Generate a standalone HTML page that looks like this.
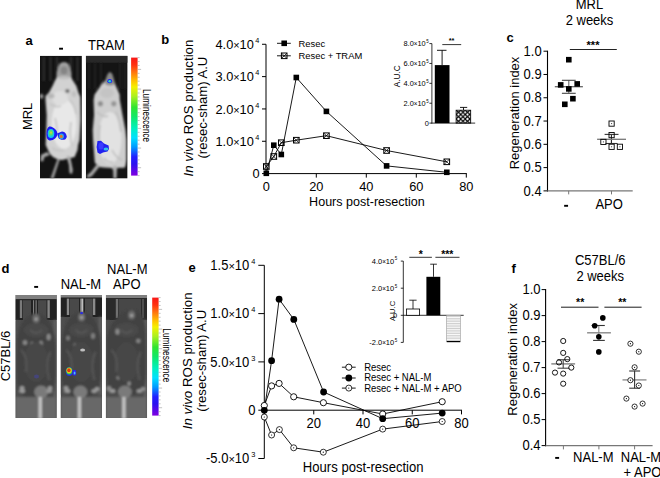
<!DOCTYPE html>
<html><head><meta charset="utf-8"><title>Figure</title>
<style>html,body{margin:0;padding:0;background:#fff;overflow:hidden;width:660px;height:478px;}svg{display:block;}text{font-family:"Liberation Sans", sans-serif;fill:#000;}</style>
</head><body>
<svg width="660" height="478" viewBox="0 0 660 478">
<defs>
<linearGradient id="cbar" x1="0" y1="0" x2="0" y2="1">
<stop offset="0" stop-color="#f81818"/><stop offset="0.06" stop-color="#ff3010"/><stop offset="0.12" stop-color="#ff7010"/>
<stop offset="0.2" stop-color="#ffc400"/><stop offset="0.25" stop-color="#f4f000"/><stop offset="0.33" stop-color="#a8f020"/>
<stop offset="0.42" stop-color="#30e430"/><stop offset="0.5" stop-color="#10e868"/><stop offset="0.6" stop-color="#00f0c0"/>
<stop offset="0.68" stop-color="#00e0ff"/><stop offset="0.76" stop-color="#0098ff"/><stop offset="0.84" stop-color="#2020ff"/>
<stop offset="0.9" stop-color="#2a10f0"/><stop offset="1" stop-color="#8000e0"/>
</linearGradient>
<pattern id="xhatch" width="4.5" height="4.5" patternUnits="userSpaceOnUse" x="456.2" y="110.0"><rect width="4.5" height="4.5" fill="#fff"/><path d="M-1 -1L5.5 5.5M5.5 -1L-1 5.5" stroke="#000" stroke-width="1.15"/></pattern>
<pattern id="hstripe" width="3" height="1.7" patternUnits="userSpaceOnUse"><rect width="3" height="1.7" fill="#fafafa"/><rect width="3" height="0.7" fill="#c4c4c4"/></pattern>
<filter id="blur1" x="-20%" y="-20%" width="140%" height="140%"><feGaussianBlur stdDeviation="1.1"/></filter>
<filter id="blur08" x="-20%" y="-20%" width="140%" height="140%"><feGaussianBlur stdDeviation="0.7"/></filter>
<filter id="blur05" x="-50%" y="-50%" width="200%" height="200%"><feGaussianBlur stdDeviation="0.6"/></filter>
<clipPath id="ca1"><rect x="40" y="55.7" width="41.9" height="122.9"/></clipPath>
<clipPath id="ca2"><rect x="85.8" y="55.7" width="41.8" height="122.9"/></clipPath>
<clipPath id="cd0"><rect x="15.4" y="295" width="41.4" height="123"/></clipPath>
<clipPath id="cd1"><rect x="60.6" y="295" width="41.4" height="123"/></clipPath>
<clipPath id="cd2"><rect x="105.8" y="295" width="41.3" height="123"/></clipPath>
</defs>
<text transform="translate(25.4,44.5) scale(1,1.0)" font-size="13" text-anchor="start" font-weight="bold" font-style="normal" >a</text>
<rect x="59.099999999999994" y="47.75" width="3.9" height="1.9" fill="#000"/>
<text transform="translate(106.4,49.7) scale(1,1.06)" font-size="13" text-anchor="middle" font-weight="normal" font-style="normal" >TRAM</text>
<text transform="translate(32,116.4) rotate(-90) scale(1.06,1)" font-size="12.26" text-anchor="middle">MRL</text>
<g clip-path="url(#ca1)">
<rect x="40" y="55.7" width="41.9" height="122.9" fill="#131313"/>
<g filter="url(#blur1)">
<rect x="42.8" y="57" width="2" height="24" fill="#2e2e2e"/>
<rect x="49.5" y="57" width="2" height="24" fill="#2e2e2e"/>
<rect x="56" y="57" width="2" height="24" fill="#2e2e2e"/>
<rect x="70" y="57" width="2" height="24" fill="#2e2e2e"/>
<rect x="76.5" y="57" width="2" height="24" fill="#2e2e2e"/>
<path d="M64,62.6 C67.5,62.6 68.9,64.6 69.2,66.5 L70.5,72 L71.2,77.8 L72.9,80.5 L76.4,86 L78.4,92.5 L80.3,97 L80.6,120 L79.5,140 L78,145 L77.5,150 L74.6,157 L68,158.5 L62,160 L58,159.5 L53,157 L50,154 L47.5,149 L45.7,145 L46.3,130 L46.7,115 L45.5,100 L45.5,96 L49,92.5 L52.5,86 L55,80.5 L56.8,77.8 L57.5,72 L58.8,66.5 C59.1,64.6 60.5,62.6 64,62.6Z" fill="#d2d2d2"/>
<path d="M64,62.6 C67.5,62.6 68.9,64.6 69.2,66.5 L70.5,72 L71,77 C67,79 61,79 57,77 L57.5,72 L58.8,66.5 C59.1,64.6 60.5,62.6 64,62.6Z" fill="#a0a0a0"/>
<ellipse cx="64" cy="70.5" rx="3.5" ry="4" fill="#858585"/>
<ellipse cx="64" cy="77.5" rx="6" ry="1.8" fill="#bdbdbd"/>
<ellipse cx="64" cy="124" rx="12.5" ry="25" fill="#e8e8e8"/>
<ellipse cx="60" cy="98" rx="8" ry="7" fill="#dedede"/>
<ellipse cx="67.4" cy="91" rx="2.2" ry="2" fill="#6a6a6a"/>
<ellipse cx="51" cy="96" rx="3.5" ry="2.5" fill="#b5b5b5"/>
<ellipse cx="74" cy="94" rx="2.5" ry="3" fill="#c0c0c0"/>
<path d="M50,104 Q56,108 61,106 M70,100 Q75,106 76,114 M55,118 Q58,128 56,136 M71,122 Q69,134 72,146 M52,148 Q58,152 64,150" fill="none" stroke="#c4c4c4" stroke-width="1.6"/>
<ellipse cx="41.5" cy="96.3" rx="1.8" ry="2.5" fill="#999"/>
<path d="M47,152 L41,155 L40.5,161 L43,161.5 L44.5,157 L50,155Z" fill="#a8a8a8"/>
<path d="M57.5,159 L59.5,160 L53.5,178.6 L50.5,178.6Z" fill="#a0a0a0"/>
<path d="M66.5,156 L70,156 L72.8,170 L72,174 L69.5,173 L69,165Z" fill="#b0b0b0"/>
</g>
<g filter="url(#blur05)">
<path d="M50,126.6 C54,127 57.6,131 57.4,134 C57.2,137.5 54,140.4 50,140.4 C47,140.4 46.3,137 46.5,133 C46.7,129 48,126.6 50,126.6Z" fill="#1c1cf4"/>
<path d="M57,133.5 L62,131.6 C65,131.6 66.6,134.5 66.8,137 L65.5,139.2 C63,140.2 60,140 58.5,138 Z" fill="#2020f0"/>
<ellipse cx="51" cy="133.5" rx="3.3" ry="4.6" fill="#18c8e8"/>
<ellipse cx="51" cy="132.8" rx="2.1" ry="2.9" fill="#58e070"/>
<ellipse cx="51" cy="132.6" rx="1" ry="1.2" fill="#c8d040"/>
<ellipse cx="61.4" cy="136.2" rx="2.5" ry="2.8" fill="#28a8e8"/>
<ellipse cx="61.2" cy="136.4" rx="1.5" ry="1.7" fill="#e07828"/>
</g>
</g>
<g clip-path="url(#ca2)">
<rect x="85.8" y="55.7" width="41.8" height="122.9" fill="#141414"/>
<rect x="85.8" y="55.7" width="41.8" height="7" fill="#282828"/>
<g filter="url(#blur1)">
<rect x="88.2" y="63" width="1.6" height="26" fill="#262626"/>
<rect x="94.2" y="63" width="1.6" height="26" fill="#262626"/>
<rect x="100.2" y="63" width="1.6" height="26" fill="#262626"/>
<rect x="119.2" y="63" width="1.6" height="26" fill="#262626"/>
<rect x="124.2" y="63" width="1.6" height="26" fill="#262626"/>
<path d="M110,72.3 C112,73 113,76 113.8,80 L115.8,85.8 L119.6,94.4 L119.8,100 L122.5,115 L125.4,130 L126.4,140 L126.4,160 L125.5,166 L124.4,167.7 L118,167.7 L116.5,169 L113,170 L112,168 L104,167.5 L99.4,167 L98.4,165.8 L95,163 L94.6,160 L93.1,140 L92.7,130 L94.1,115 L93.6,100 L94.6,94.4 L100.8,85.8 L105.7,80 C107,76 108,73 110,72.3Z" fill="#cecece"/>
<path d="M110,72.3 C112,73 113,76 113.8,80 L114.8,84 C112,86 108,86 105,84 L105.7,80 C107,76 108,73 110,72.3Z" fill="#8a8a8a"/>
<ellipse cx="110" cy="138" rx="11.5" ry="26" fill="#e2e2e2"/>
<ellipse cx="100.4" cy="103.7" rx="2.6" ry="2.8" fill="#8e8e8e"/>
<ellipse cx="113.8" cy="103.7" rx="2.6" ry="2.8" fill="#959595"/>
<ellipse cx="107" cy="93" rx="7" ry="5" fill="#c4c4c4"/>
<path d="M97,112 Q103,118 108,116 M116,112 Q120,122 121,132 M100,125 Q98,140 101,150 M112,150 Q116,158 122,160 M104,158 Q108,163 113,162" fill="none" stroke="#bdbdbd" stroke-width="1.5"/>
<path d="M97,164 L100,166 L92,176 L87.5,178 L87,175.5 L91,172Z" fill="#a8a8a8"/>
<path d="M113,166 L117,166 L116.5,178.6 L113.5,178.6Z" fill="#b0b0b0"/>
</g>
<g filter="url(#blur05)">
<ellipse cx="109.7" cy="81.2" rx="2.4" ry="2.1" fill="#2222f8"/>
<ellipse cx="109.7" cy="81.2" rx="1.488" ry="1.302" fill="#10c0e0"/>
<ellipse cx="109.7" cy="81.2" rx="0.864" ry="0.756" fill="#50e080"/>
</g>
<g filter="url(#blur05)">
<path d="M97.5,141 L101,140.8 L104,143.5 L108.6,145.5 L109,149 L107.5,151.5 L103,152.5 L100,154 L97.5,152.5 L96.6,147 Z" fill="#2424f0"/>
<ellipse cx="101" cy="146" rx="2.6" ry="3.5" fill="#3a3aff"/>
<ellipse cx="106" cy="149" rx="2.4" ry="1.6" fill="#30c0e8"/>
</g>
</g>
<rect x="131.1" y="57.6" width="6.5" height="118" fill="url(#cbar)"/>
<line x1="137.6" y1="57.6" x2="139.6" y2="57.6" stroke="#999" stroke-width="0.6" />
<line x1="137.6" y1="61.53333333333333" x2="139.6" y2="61.53333333333333" stroke="#999" stroke-width="0.6" />
<line x1="137.6" y1="65.46666666666667" x2="139.6" y2="65.46666666666667" stroke="#999" stroke-width="0.6" />
<line x1="137.6" y1="69.4" x2="141.1" y2="69.4" stroke="#999" stroke-width="0.6" />
<line x1="137.6" y1="73.33333333333333" x2="139.6" y2="73.33333333333333" stroke="#999" stroke-width="0.6" />
<line x1="137.6" y1="77.26666666666667" x2="139.6" y2="77.26666666666667" stroke="#999" stroke-width="0.6" />
<line x1="137.6" y1="81.2" x2="139.6" y2="81.2" stroke="#999" stroke-width="0.6" />
<line x1="137.6" y1="85.13333333333334" x2="139.6" y2="85.13333333333334" stroke="#999" stroke-width="0.6" />
<line x1="137.6" y1="89.06666666666666" x2="141.1" y2="89.06666666666666" stroke="#999" stroke-width="0.6" />
<line x1="137.6" y1="93.0" x2="139.6" y2="93.0" stroke="#999" stroke-width="0.6" />
<line x1="137.6" y1="96.93333333333334" x2="139.6" y2="96.93333333333334" stroke="#999" stroke-width="0.6" />
<line x1="137.6" y1="100.86666666666667" x2="139.6" y2="100.86666666666667" stroke="#999" stroke-width="0.6" />
<line x1="137.6" y1="104.80000000000001" x2="139.6" y2="104.80000000000001" stroke="#999" stroke-width="0.6" />
<line x1="137.6" y1="108.73333333333333" x2="141.1" y2="108.73333333333333" stroke="#999" stroke-width="0.6" />
<line x1="137.6" y1="112.66666666666667" x2="139.6" y2="112.66666666666667" stroke="#999" stroke-width="0.6" />
<line x1="137.6" y1="116.6" x2="139.6" y2="116.6" stroke="#999" stroke-width="0.6" />
<line x1="137.6" y1="120.53333333333333" x2="139.6" y2="120.53333333333333" stroke="#999" stroke-width="0.6" />
<line x1="137.6" y1="124.46666666666667" x2="139.6" y2="124.46666666666667" stroke="#999" stroke-width="0.6" />
<line x1="137.6" y1="128.4" x2="141.1" y2="128.4" stroke="#999" stroke-width="0.6" />
<line x1="137.6" y1="132.33333333333334" x2="139.6" y2="132.33333333333334" stroke="#999" stroke-width="0.6" />
<line x1="137.6" y1="136.26666666666668" x2="139.6" y2="136.26666666666668" stroke="#999" stroke-width="0.6" />
<line x1="137.6" y1="140.2" x2="139.6" y2="140.2" stroke="#999" stroke-width="0.6" />
<line x1="137.6" y1="144.13333333333333" x2="139.6" y2="144.13333333333333" stroke="#999" stroke-width="0.6" />
<line x1="137.6" y1="148.06666666666666" x2="141.1" y2="148.06666666666666" stroke="#999" stroke-width="0.6" />
<line x1="137.6" y1="152.0" x2="139.6" y2="152.0" stroke="#999" stroke-width="0.6" />
<line x1="137.6" y1="155.93333333333334" x2="139.6" y2="155.93333333333334" stroke="#999" stroke-width="0.6" />
<line x1="137.6" y1="159.86666666666667" x2="139.6" y2="159.86666666666667" stroke="#999" stroke-width="0.6" />
<line x1="137.6" y1="163.8" x2="139.6" y2="163.8" stroke="#999" stroke-width="0.6" />
<line x1="137.6" y1="167.73333333333335" x2="141.1" y2="167.73333333333335" stroke="#999" stroke-width="0.6" />
<line x1="137.6" y1="171.66666666666666" x2="139.6" y2="171.66666666666666" stroke="#999" stroke-width="0.6" />
<line x1="137.6" y1="175.6" x2="139.6" y2="175.6" stroke="#999" stroke-width="0.6" />
<text transform="translate(143.4,115.6) rotate(90)" font-size="10.4" text-anchor="middle" textLength="53.19999999999999" lengthAdjust="spacingAndGlyphs">Luminescence</text>
<text transform="translate(161.2,44.2) scale(1,1.0)" font-size="13" text-anchor="start" font-weight="bold" font-style="normal" >b</text>
<line x1="266.0" y1="44.28" x2="266.0" y2="174.1" stroke="#000" stroke-width="1" />
<line x1="265.5" y1="173.6" x2="466.8" y2="173.6" stroke="#000" stroke-width="1" />
<line x1="262.0" y1="44.28" x2="266.0" y2="44.28" stroke="#000" stroke-width="1" />
<text transform="translate(259.3,48.88) scale(1,1.06)" font-size="12.8" text-anchor="end">4.0<tspan font-size="10.88">×</tspan>10<tspan font-size="7.30" dx="1.4" dy="-5.52">4</tspan></text>
<line x1="262.0" y1="76.61" x2="266.0" y2="76.61" stroke="#000" stroke-width="1" />
<text transform="translate(259.3,81.21) scale(1,1.06)" font-size="12.8" text-anchor="end">3.0<tspan font-size="10.88">×</tspan>10<tspan font-size="7.30" dx="1.4" dy="-5.52">4</tspan></text>
<line x1="262.0" y1="108.94" x2="266.0" y2="108.94" stroke="#000" stroke-width="1" />
<text transform="translate(259.3,113.53999999999999) scale(1,1.06)" font-size="12.8" text-anchor="end">2.0<tspan font-size="10.88">×</tspan>10<tspan font-size="7.30" dx="1.4" dy="-5.52">4</tspan></text>
<line x1="262.0" y1="141.26999999999998" x2="266.0" y2="141.26999999999998" stroke="#000" stroke-width="1" />
<text transform="translate(259.3,145.86999999999998) scale(1,1.06)" font-size="12.8" text-anchor="end">1.0<tspan font-size="10.88">×</tspan>10<tspan font-size="7.30" dx="1.4" dy="-5.52">4</tspan></text>
<line x1="262.0" y1="173.6" x2="266.0" y2="173.6" stroke="#000" stroke-width="1" />
<text transform="translate(259.5,178.2) scale(1,1.06)" font-size="12.8" text-anchor="end" font-weight="normal" font-style="normal" >0</text>
<line x1="316.3" y1="173.6" x2="316.3" y2="177.6" stroke="#000" stroke-width="1" />
<line x1="366.3" y1="173.6" x2="366.3" y2="177.6" stroke="#000" stroke-width="1" />
<line x1="416.3" y1="173.6" x2="416.3" y2="177.6" stroke="#000" stroke-width="1" />
<line x1="466.3" y1="173.6" x2="466.3" y2="177.6" stroke="#000" stroke-width="1" />
<text transform="translate(266.3,191) scale(1,1.06)" font-size="12.8" text-anchor="middle" font-weight="normal" font-style="normal" >0</text>
<text transform="translate(316.3,191) scale(1,1.06)" font-size="12.8" text-anchor="middle" font-weight="normal" font-style="normal" >20</text>
<text transform="translate(366.3,191) scale(1,1.06)" font-size="12.8" text-anchor="middle" font-weight="normal" font-style="normal" >40</text>
<text transform="translate(416.3,191) scale(1,1.06)" font-size="12.8" text-anchor="middle" font-weight="normal" font-style="normal" >60</text>
<text transform="translate(466.3,191) scale(1,1.06)" font-size="12.8" text-anchor="middle" font-weight="normal" font-style="normal" >80</text>
<text transform="translate(309.1,205.9) scale(1,1.06)" font-size="12.55" text-anchor="start" font-weight="normal" font-style="normal" >Hours post-resection</text>
<text transform="translate(193,108.0) rotate(-90) scale(1.06,1)" font-size="12.56" text-anchor="middle"><tspan font-style="italic">In vivo</tspan> ROS production</text>
<text transform="translate(206.6,107.6) rotate(-90) scale(1.06,1)" font-size="12.36" text-anchor="middle">(resec-sham) A.U</text>
<polyline fill="none" stroke="#000" stroke-width="0.9" points="266.3,166.5 273.8,156.5 281.3,142.7 296.3,140.2 326.4,135.7 386.6,150.5 446.8,161.8"/>
<polyline fill="none" stroke="#000" stroke-width="0.9" points="266.3,173.3 273.8,145.2 281.3,154.5 296.3,77.5 326.4,111.4 386.6,165.9 446.8,172.3"/>
<g stroke="#000" stroke-width="1" fill="none"><rect x="263.5" y="163.7" width="5.6" height="5.6"/><path d="M263.5 163.7L269.1 169.3M269.1 163.7L263.5 169.3" stroke-width="0.75"/></g>
<g stroke="#000" stroke-width="1" fill="none"><rect x="271.0" y="153.7" width="5.6" height="5.6"/><path d="M271.0 153.7L276.6 159.3M276.6 153.7L271.0 159.3" stroke-width="0.75"/></g>
<g stroke="#000" stroke-width="1" fill="none"><rect x="278.5" y="139.89999999999998" width="5.6" height="5.6"/><path d="M278.5 139.89999999999998L284.1 145.5M284.1 139.89999999999998L278.5 145.5" stroke-width="0.75"/></g>
<g stroke="#000" stroke-width="1" fill="none"><rect x="293.5" y="137.39999999999998" width="5.6" height="5.6"/><path d="M293.5 137.39999999999998L299.1 143.0M299.1 137.39999999999998L293.5 143.0" stroke-width="0.75"/></g>
<g stroke="#000" stroke-width="1" fill="none"><rect x="323.59999999999997" y="132.89999999999998" width="5.6" height="5.6"/><path d="M323.59999999999997 132.89999999999998L329.2 138.5M329.2 132.89999999999998L323.59999999999997 138.5" stroke-width="0.75"/></g>
<g stroke="#000" stroke-width="1" fill="none"><rect x="383.8" y="147.7" width="5.6" height="5.6"/><path d="M383.8 147.7L389.40000000000003 153.3M389.40000000000003 147.7L383.8 153.3" stroke-width="0.75"/></g>
<g stroke="#000" stroke-width="1" fill="none"><rect x="444.0" y="159.0" width="5.6" height="5.6"/><path d="M444.0 159.0L449.6 164.60000000000002M449.6 159.0L444.0 164.60000000000002" stroke-width="0.75"/></g>
<rect x="263.5" y="170.5" width="5.6" height="5.6" fill="#000"/>
<rect x="271.0" y="142.39999999999998" width="5.6" height="5.6" fill="#000"/>
<rect x="278.5" y="151.7" width="5.6" height="5.6" fill="#000"/>
<rect x="293.5" y="74.7" width="5.6" height="5.6" fill="#000"/>
<rect x="323.59999999999997" y="108.60000000000001" width="5.6" height="5.6" fill="#000"/>
<rect x="383.8" y="163.1" width="5.6" height="5.6" fill="#000"/>
<rect x="444.0" y="169.5" width="5.6" height="5.6" fill="#000"/>
<line x1="277" y1="43.3" x2="290.8" y2="43.3" stroke="#000" stroke-width="0.9" />
<rect x="281.4" y="40.5" width="5.6" height="5.6" fill="#000"/>
<text transform="translate(298.5,46.8) scale(1,1.06)" font-size="9.4" text-anchor="start" font-weight="normal" font-style="normal" >Resec</text>
<line x1="277" y1="55.8" x2="290.8" y2="55.8" stroke="#000" stroke-width="0.9" />
<g stroke="#000" stroke-width="1" fill="none"><rect x="281.4" y="53.0" width="5.6" height="5.6"/><path d="M281.4 53.0L287.0 58.599999999999994M287.0 53.0L281.4 58.599999999999994" stroke-width="0.75"/></g>
<text transform="translate(298.5,59.3) scale(1,1.06)" font-size="9.4" text-anchor="start" font-weight="normal" font-style="normal" >Resec + TRAM</text>
<line x1="431.9" y1="43.58" x2="431.9" y2="123.5" stroke="#000" stroke-width="0.8" />
<line x1="431.5" y1="123.1" x2="475.2" y2="123.1" stroke="#000" stroke-width="0.8" />
<line x1="429.4" y1="43.58" x2="431.9" y2="43.58" stroke="#000" stroke-width="0.8" />
<text transform="translate(428.6,46.18) scale(1,1.06)" font-size="7.4" text-anchor="end">8.0<tspan font-size="6.29">×</tspan>10<tspan font-size="4.44" dx="0.5" dy="-3.03">5</tspan></text>
<line x1="429.4" y1="63.46" x2="431.9" y2="63.46" stroke="#000" stroke-width="0.8" />
<text transform="translate(428.6,66.06) scale(1,1.06)" font-size="7.4" text-anchor="end">6.0<tspan font-size="6.29">×</tspan>10<tspan font-size="4.44" dx="0.5" dy="-3.03">5</tspan></text>
<line x1="429.4" y1="83.34" x2="431.9" y2="83.34" stroke="#000" stroke-width="0.8" />
<text transform="translate(428.6,85.94) scale(1,1.06)" font-size="7.4" text-anchor="end">4.0<tspan font-size="6.29">×</tspan>10<tspan font-size="4.44" dx="0.5" dy="-3.03">5</tspan></text>
<line x1="429.4" y1="103.22" x2="431.9" y2="103.22" stroke="#000" stroke-width="0.8" />
<text transform="translate(428.6,105.82) scale(1,1.06)" font-size="7.4" text-anchor="end">2.0<tspan font-size="6.29">×</tspan>10<tspan font-size="4.44" dx="0.5" dy="-3.03">5</tspan></text>
<line x1="429.4" y1="123.1" x2="431.9" y2="123.1" stroke="#000" stroke-width="0.8" />
<text transform="translate(428.8,125.69999999999999) scale(1,1.06)" font-size="7.4" text-anchor="end" font-weight="normal" font-style="normal" >0</text>
<text transform="translate(400.4,76.3) rotate(-90)" font-size="8.3" text-anchor="middle">A.U.C</text>
<rect x="434.8" y="65.1" width="14.7" height="58.0" fill="#000"/>
<line x1="442.1" y1="65.1" x2="442.1" y2="50.3" stroke="#000" stroke-width="0.9" />
<line x1="437" y1="50.3" x2="446.5" y2="50.3" stroke="#000" stroke-width="0.9" />
<rect x="456.1" y="110.2" width="14.6" height="12.899999999999991" fill="url(#xhatch)" stroke="#000" stroke-width="0.8"/>
<line x1="463.5" y1="110.2" x2="463.5" y2="107.4" stroke="#000" stroke-width="0.9" />
<line x1="460" y1="107.4" x2="467.2" y2="107.4" stroke="#000" stroke-width="0.9" />
<line x1="442.3" y1="44.6" x2="461.2" y2="44.6" stroke="#000" stroke-width="0.8" />
<text transform="translate(451.6,42.5) scale(1,1.06)" font-size="7.4" text-anchor="middle" font-weight="bold" font-style="normal" >**</text>
<line x1="547.5" y1="50.7" x2="547.5" y2="191.48" stroke="#000" stroke-width="1.1" />
<line x1="547.0" y1="190.88" x2="632.7" y2="190.88" stroke="#777" stroke-width="1.3" />
<line x1="543.5" y1="51.2" x2="547.5" y2="51.2" stroke="#000" stroke-width="1" />
<text transform="translate(541.6,55.900000000000006) scale(1,1.06)" font-size="13" text-anchor="end" font-weight="normal" font-style="normal" >1.0</text>
<line x1="543.5" y1="74.48" x2="547.5" y2="74.48" stroke="#000" stroke-width="1" />
<text transform="translate(541.6,79.18) scale(1,1.06)" font-size="13" text-anchor="end" font-weight="normal" font-style="normal" >0.9</text>
<line x1="543.5" y1="97.75999999999999" x2="547.5" y2="97.75999999999999" stroke="#000" stroke-width="1" />
<text transform="translate(541.6,102.46) scale(1,1.06)" font-size="13" text-anchor="end" font-weight="normal" font-style="normal" >0.8</text>
<line x1="543.5" y1="121.04000000000002" x2="547.5" y2="121.04000000000002" stroke="#000" stroke-width="1" />
<text transform="translate(541.6,125.74000000000002) scale(1,1.06)" font-size="13" text-anchor="end" font-weight="normal" font-style="normal" >0.7</text>
<line x1="543.5" y1="144.32" x2="547.5" y2="144.32" stroke="#000" stroke-width="1" />
<text transform="translate(541.6,149.01999999999998) scale(1,1.06)" font-size="13" text-anchor="end" font-weight="normal" font-style="normal" >0.6</text>
<line x1="543.5" y1="167.60000000000002" x2="547.5" y2="167.60000000000002" stroke="#000" stroke-width="1" />
<text transform="translate(541.6,172.3) scale(1,1.06)" font-size="13" text-anchor="end" font-weight="normal" font-style="normal" >0.5</text>
<line x1="543.5" y1="190.88" x2="547.5" y2="190.88" stroke="#000" stroke-width="1" />
<text transform="translate(541.6,195.57999999999998) scale(1,1.06)" font-size="13" text-anchor="end" font-weight="normal" font-style="normal" >0.4</text>
<line x1="568.7" y1="190.88" x2="568.7" y2="194.38" stroke="#777" stroke-width="1" />
<line x1="611.5" y1="190.88" x2="611.5" y2="194.38" stroke="#777" stroke-width="1" />
<rect x="564.15" y="204.85000000000002" width="3.9" height="1.9" fill="#000"/>
<text transform="translate(609.1,209.2) scale(1,1.06)" font-size="13" text-anchor="middle" font-weight="normal" font-style="normal" >APO</text>
<text transform="translate(518.6,113) rotate(-90) scale(1.06,1)" font-size="12.26" text-anchor="middle">Regeneration index</text>
<text transform="translate(589.5,9.2) scale(1,1.06)" font-size="13" text-anchor="middle" font-weight="normal" font-style="normal" >MRL</text>
<text transform="translate(589.5,24.9) scale(1,1.06)" font-size="13" text-anchor="middle" font-weight="normal" font-style="normal" >2 weeks</text>
<text transform="translate(506.6,41.6) scale(1,1.0)" font-size="13" text-anchor="start" font-weight="bold" font-style="normal" >c</text>
<line x1="569.8" y1="49.5" x2="616.8" y2="49.5" stroke="#222" stroke-width="1" />
<text transform="translate(593,48.7) scale(1,1.06)" font-size="11" text-anchor="middle" font-weight="bold" font-style="normal" >***</text>
<line x1="554.8" y1="86.7" x2="582.9" y2="86.7" stroke="#666" stroke-width="1.3" />
<line x1="568.8" y1="80.3" x2="568.8" y2="93.3" stroke="#666" stroke-width="1.1" />
<line x1="561.9" y1="80.3" x2="575.7" y2="80.3" stroke="#444" stroke-width="1.1" />
<line x1="561.9" y1="93.3" x2="575.7" y2="93.3" stroke="#444" stroke-width="1.1" />
<rect x="566.0" y="56.900000000000006" width="5.6" height="5.6" fill="#000"/>
<rect x="557.9000000000001" y="82.10000000000001" width="5.6" height="5.6" fill="#000"/>
<rect x="574.4000000000001" y="81.10000000000001" width="5.6" height="5.6" fill="#000"/>
<rect x="566.0" y="86.10000000000001" width="5.6" height="5.6" fill="#000"/>
<rect x="570.1" y="95.9" width="5.6" height="5.6" fill="#000"/>
<rect x="562.0" y="101.5" width="5.6" height="5.6" fill="#000"/>
<line x1="611.4" y1="134.4" x2="611.4" y2="143.5" stroke="#222" stroke-width="1.1" />
<line x1="604.6" y1="134.4" x2="618.5" y2="134.4" stroke="#333" stroke-width="1.1" />
<line x1="605.5" y1="143.5" x2="617.6" y2="143.5" stroke="#333" stroke-width="1.1" />
<line x1="597.1" y1="139.3" x2="626" y2="139.3" stroke="#777" stroke-width="1.3" />
<rect x="609.0" y="121.0" width="5.2" height="5.2" fill="none" stroke="#000" stroke-width="0.9"/><rect x="611.1" y="123.1" width="1" height="1" fill="#333"/>
<rect x="609.0" y="132.5" width="5.2" height="5.2" fill="none" stroke="#000" stroke-width="0.9"/><rect x="611.1" y="134.6" width="1" height="1" fill="#333"/>
<rect x="600.8" y="139.3" width="5.2" height="5.2" fill="none" stroke="#000" stroke-width="0.9"/><rect x="602.9" y="141.4" width="1" height="1" fill="#333"/>
<rect x="609.0" y="144.20000000000002" width="5.2" height="5.2" fill="none" stroke="#000" stroke-width="0.9"/><rect x="611.1" y="146.3" width="1" height="1" fill="#333"/>
<rect x="617.3" y="144.20000000000002" width="5.2" height="5.2" fill="none" stroke="#000" stroke-width="0.9"/><rect x="619.4" y="146.3" width="1" height="1" fill="#333"/>
<text transform="translate(1.6,273.1) scale(1,1.0)" font-size="13" text-anchor="start" font-weight="bold" font-style="normal" >d</text>
<rect x="34.199999999999996" y="285.95" width="3.9" height="1.9" fill="#000"/>
<text transform="translate(80.9,288.7) scale(1,1.06)" font-size="13" text-anchor="middle" font-weight="normal" font-style="normal" >NAL-M</text>
<text transform="translate(127.3,274.1) scale(1,1.06)" font-size="13" text-anchor="middle" font-weight="normal" font-style="normal" >NAL-M</text>
<text transform="translate(126.8,288.7) scale(1,1.06)" font-size="13" text-anchor="middle" font-weight="normal" font-style="normal" >APO</text>
<text transform="translate(9.9,356) rotate(-90) scale(1.06,1)" font-size="12.26" text-anchor="middle">C57BL/6</text>
<g clip-path="url(#cd0)">
<rect x="15.4" y="295" width="41.4" height="123" fill="#4c4c4c"/>
<rect x="15.4" y="295" width="41.4" height="4.199999999999989" fill="#808080"/>
<g filter="url(#blur08)">
<rect x="15.4" y="299.2" width="41.4" height="20.80000000000001" fill="#222222"/>
<rect x="23" y="300.2" width="8" height="19.80000000000001" fill="#484848"/>
<rect x="38" y="300.2" width="8.5" height="19.80000000000001" fill="#4a4a4a"/>
<rect x="19.8" y="300.2" width="2.4" height="17.80000000000001" fill="#7a7a7a"/>
<rect x="47.4" y="300.2" width="2.4" height="17.80000000000001" fill="#858585"/>
<rect x="33.1" y="300.2" width="1.0" height="17.80000000000001" fill="#8a8a8a"/>
<rect x="35.6" y="300.2" width="1.0" height="17.80000000000001" fill="#909090"/>
</g>
<g filter="url(#blur1)">
<rect x="15.4" y="320" width="3" height="78" fill="#505050"/>
<rect x="53.3" y="320" width="3.5" height="78" fill="#5e5e5e"/>
<path d="M32.1,313.6 C22.1,319.6 17.1,328.6 16.6,344.6 C16.1,368.6 16.1,380.6 18.1,390.6 L26.1,397.6 C32.1,399.6 40.1,399.6 46.1,397.6 L54.1,390.6 C56.1,380.6 56.1,368.6 55.6,344.6 C55.1,328.6 50.1,319.6 40.1,313.6 Z" fill="#424242"/>
<ellipse cx="36.1" cy="318.6" rx="3.5" ry="4.5" fill="#6a6a6a"/>
<ellipse cx="36.1" cy="319.1" rx="1.5" ry="1.2" fill="#b0b0b0"/>
<ellipse cx="36.1" cy="330" rx="12" ry="7" fill="#4a4a4a"/>
<rect x="15.4" y="397" width="41.4" height="22" fill="#686868"/>
<ellipse cx="41.2" cy="392" rx="7" ry="6.5" fill="#7a7a7a"/>
<rect x="38.5" y="397" width="3.4" height="22" fill="#c4c4c4"/>
<ellipse cx="22.1" cy="391" rx="3" ry="2" fill="#9a9a9a"/>
<ellipse cx="49.1" cy="391" rx="3" ry="2" fill="#959595"/>
<ellipse cx="25" cy="342.5" rx="2.3" ry="2.5" fill="#888"/>
<ellipse cx="32" cy="344" rx="1.8" ry="2.2" fill="#7a7a7a"/>
<ellipse cx="41" cy="344" rx="1.8" ry="3.2" fill="#888"/>
<ellipse cx="48.6" cy="337" rx="2" ry="3.2" fill="#8a8a8a"/>
<ellipse cx="22" cy="388" rx="2.5" ry="2" fill="#9a9a9a"/>
<ellipse cx="50" cy="388" rx="2.5" ry="2" fill="#9a9a9a"/>
<ellipse cx="36.1" cy="362" rx="12" ry="20" fill="#464646"/>
<path d="M21.1,350 Q28.1,356 26.1,372 M50.1,352 Q45.1,364 49.1,380 M30.1,330 Q36.1,336 42.1,330" fill="none" stroke="#565656" stroke-width="2"/>
</g>
<ellipse cx="36.5" cy="376.5" rx="2.5" ry="2" fill="#44447a" filter="url(#blur05)"/>
</g>
<g clip-path="url(#cd1)">
<rect x="60.6" y="295" width="41.4" height="123" fill="#4c4c4c"/>
<rect x="60.6" y="295" width="41.4" height="2.6000000000000227" fill="#808080"/>
<g filter="url(#blur08)">
<rect x="60.6" y="297.6" width="41.4" height="19.399999999999977" fill="#242424"/>
<rect x="70" y="298.6" width="9" height="18.399999999999977" fill="#484848"/>
<rect x="85" y="298.6" width="7.5" height="18.399999999999977" fill="#4a4a4a"/>
<rect x="66.8" y="298.6" width="2.4" height="16.399999999999977" fill="#8a8a8a"/>
<rect x="92.89999999999999" y="298.6" width="2.4" height="16.399999999999977" fill="#8a8a8a"/>
<rect x="80.55" y="298.6" width="1.1" height="16.399999999999977" fill="#d8d8d8"/>
<rect x="82.15" y="298.6" width="1.1" height="16.399999999999977" fill="#d8d8d8"/>
</g>
<g filter="url(#blur1)">
<rect x="60.6" y="317" width="3" height="78" fill="#505050"/>
<rect x="98.5" y="317" width="3.5" height="78" fill="#5e5e5e"/>
<path d="M77.6,312 C67.6,318 62.3,327 61.8,343 C61.3,367 61.3,379 63.3,389 L71.3,396 C77.3,398 85.3,398 91.3,396 L99.3,389 C101.3,379 101.3,367 100.8,343 C100.3,327 95.6,318 85.6,312 Z" fill="#424242"/>
<ellipse cx="81.6" cy="317" rx="3.5" ry="4.5" fill="#6a6a6a"/>
<ellipse cx="81.6" cy="317.5" rx="1.5" ry="1.2" fill="#b0b0b0"/>
<ellipse cx="81.3" cy="330" rx="12" ry="7" fill="#4a4a4a"/>
<rect x="60.6" y="397" width="41.4" height="22" fill="#686868"/>
<ellipse cx="80.4" cy="392" rx="7" ry="6.5" fill="#7a7a7a"/>
<rect x="77.7" y="397" width="3.4" height="22" fill="#c4c4c4"/>
<ellipse cx="67.3" cy="391" rx="3" ry="2" fill="#9a9a9a"/>
<ellipse cx="94.3" cy="391" rx="3" ry="2" fill="#959595"/>
<ellipse cx="68" cy="338" rx="2" ry="2.5" fill="#7a7a7a"/>
<ellipse cx="93" cy="336" rx="2" ry="3" fill="#808080"/>
<ellipse cx="75" cy="345" rx="1.8" ry="2" fill="#6e6e6e"/>
<ellipse cx="66" cy="388" rx="2.5" ry="2" fill="#9a9a9a"/>
<ellipse cx="97" cy="389" rx="2.5" ry="2" fill="#9a9a9a"/>
<ellipse cx="81.3" cy="362" rx="12" ry="20" fill="#464646"/>
<path d="M66.3,350 Q73.3,356 71.3,372 M95.3,352 Q90.3,364 94.3,380 M75.3,330 Q81.3,336 87.3,330" fill="none" stroke="#565656" stroke-width="2"/>
</g>
<g filter="url(#blur05)"><ellipse cx="69.3" cy="371.5" rx="3.4" ry="4.6" fill="#2030e0"/><ellipse cx="69.2" cy="370.8" rx="3.0" ry="3.6" fill="#40d040"/><ellipse cx="69.1" cy="370.5" rx="2.5" ry="2.8" fill="#f0d020"/><ellipse cx="68.9" cy="370.3" rx="1.8" ry="2.0" fill="#e03a10"/><rect x="72.6" y="370" width="3.6" height="5.5" rx="1" fill="#2a2ae8"/><ellipse cx="74.6" cy="373" rx="0.9" ry="1.5" fill="#50c0f0"/></g>
<ellipse cx="81.6" cy="313.1" rx="1.6" ry="1.1" fill="#2a2ae0" filter="url(#blur05)"/>
<ellipse cx="82.6" cy="350" rx="2.5" ry="1.5" fill="#c0c0c0" filter="url(#blur05)"/>
</g>
<g clip-path="url(#cd2)">
<rect x="105.8" y="295" width="41.3" height="123" fill="#4c4c4c"/>
<rect x="105.8" y="295" width="41.3" height="3.0" fill="#808080"/>
<g filter="url(#blur08)">
<rect x="105.8" y="298.0" width="41.3" height="22.0" fill="#2a2a2a"/>
<rect x="119" y="299.0" width="22" height="21.0" fill="#464646"/>
<rect x="115.8" y="299.0" width="2.4" height="19.0" fill="#707070"/>
<rect x="142.2" y="299.0" width="1.6" height="19.0" fill="#5a5a5a"/>
</g>
<g filter="url(#blur1)">
<rect x="105.8" y="320" width="3" height="78" fill="#505050"/>
<rect x="143.6" y="320" width="3.5" height="78" fill="#5e5e5e"/>
<path d="M127.6,310 C117.6,316 107.44999999999999,325 106.94999999999999,341 C106.44999999999999,365 106.44999999999999,377 108.44999999999999,387 L116.44999999999999,394 C122.44999999999999,396 130.45,396 136.45,394 L144.45,387 C146.45,377 146.45,365 145.95,341 C145.45,325 145.6,316 135.6,310 Z" fill="#424242"/>
<ellipse cx="131.6" cy="315" rx="3.5" ry="4.5" fill="#6a6a6a"/>
<ellipse cx="131.6" cy="315.5" rx="1.5" ry="1.2" fill="#b0b0b0"/>
<ellipse cx="126.44999999999999" cy="330" rx="12" ry="7" fill="#4a4a4a"/>
<rect x="105.8" y="397" width="41.3" height="22" fill="#686868"/>
<ellipse cx="124.9" cy="392" rx="7" ry="6.5" fill="#7a7a7a"/>
<rect x="122.2" y="397" width="3.4" height="22" fill="#c4c4c4"/>
<ellipse cx="112.44999999999999" cy="391" rx="3" ry="2" fill="#9a9a9a"/>
<ellipse cx="139.45" cy="391" rx="3" ry="2" fill="#959595"/>
<ellipse cx="117.4" cy="331.7" rx="2" ry="3" fill="#8a8a8a"/>
<ellipse cx="138.3" cy="340.9" rx="2.2" ry="2.2" fill="#858585"/>
<ellipse cx="118.2" cy="377.7" rx="2" ry="2" fill="#7e7e7e"/>
<ellipse cx="129.1" cy="383.5" rx="1.8" ry="2.4" fill="#8a8a8a"/>
<ellipse cx="109" cy="388.6" rx="2.5" ry="2.5" fill="#8a8a8a"/>
<ellipse cx="143" cy="389" rx="2.5" ry="2" fill="#909090"/>
<ellipse cx="126.44999999999999" cy="362" rx="12" ry="20" fill="#464646"/>
<path d="M111.44999999999999,350 Q118.44999999999999,356 116.44999999999999,372 M140.45,352 Q135.45,364 139.45,380 M120.44999999999999,330 Q126.44999999999999,336 132.45,330" fill="none" stroke="#565656" stroke-width="2"/>
</g>
</g>
<rect x="152.2" y="297.6" width="6.4" height="118" fill="url(#cbar)"/>
<line x1="158.6" y1="297.6" x2="160.6" y2="297.6" stroke="#999" stroke-width="0.6" />
<line x1="158.6" y1="301.53333333333336" x2="160.6" y2="301.53333333333336" stroke="#999" stroke-width="0.6" />
<line x1="158.6" y1="305.4666666666667" x2="160.6" y2="305.4666666666667" stroke="#999" stroke-width="0.6" />
<line x1="158.6" y1="309.40000000000003" x2="162.1" y2="309.40000000000003" stroke="#999" stroke-width="0.6" />
<line x1="158.6" y1="313.33333333333337" x2="160.6" y2="313.33333333333337" stroke="#999" stroke-width="0.6" />
<line x1="158.6" y1="317.2666666666667" x2="160.6" y2="317.2666666666667" stroke="#999" stroke-width="0.6" />
<line x1="158.6" y1="321.20000000000005" x2="160.6" y2="321.20000000000005" stroke="#999" stroke-width="0.6" />
<line x1="158.6" y1="325.1333333333334" x2="160.6" y2="325.1333333333334" stroke="#999" stroke-width="0.6" />
<line x1="158.6" y1="329.06666666666666" x2="162.1" y2="329.06666666666666" stroke="#999" stroke-width="0.6" />
<line x1="158.6" y1="333.0" x2="160.6" y2="333.0" stroke="#999" stroke-width="0.6" />
<line x1="158.6" y1="336.93333333333334" x2="160.6" y2="336.93333333333334" stroke="#999" stroke-width="0.6" />
<line x1="158.6" y1="340.8666666666667" x2="160.6" y2="340.8666666666667" stroke="#999" stroke-width="0.6" />
<line x1="158.6" y1="344.8" x2="160.6" y2="344.8" stroke="#999" stroke-width="0.6" />
<line x1="158.6" y1="348.73333333333335" x2="162.1" y2="348.73333333333335" stroke="#999" stroke-width="0.6" />
<line x1="158.6" y1="352.6666666666667" x2="160.6" y2="352.6666666666667" stroke="#999" stroke-width="0.6" />
<line x1="158.6" y1="356.6" x2="160.6" y2="356.6" stroke="#999" stroke-width="0.6" />
<line x1="158.6" y1="360.53333333333336" x2="160.6" y2="360.53333333333336" stroke="#999" stroke-width="0.6" />
<line x1="158.6" y1="364.4666666666667" x2="160.6" y2="364.4666666666667" stroke="#999" stroke-width="0.6" />
<line x1="158.6" y1="368.40000000000003" x2="162.1" y2="368.40000000000003" stroke="#999" stroke-width="0.6" />
<line x1="158.6" y1="372.33333333333337" x2="160.6" y2="372.33333333333337" stroke="#999" stroke-width="0.6" />
<line x1="158.6" y1="376.2666666666667" x2="160.6" y2="376.2666666666667" stroke="#999" stroke-width="0.6" />
<line x1="158.6" y1="380.20000000000005" x2="160.6" y2="380.20000000000005" stroke="#999" stroke-width="0.6" />
<line x1="158.6" y1="384.1333333333333" x2="160.6" y2="384.1333333333333" stroke="#999" stroke-width="0.6" />
<line x1="158.6" y1="388.0666666666667" x2="162.1" y2="388.0666666666667" stroke="#999" stroke-width="0.6" />
<line x1="158.6" y1="392.0" x2="160.6" y2="392.0" stroke="#999" stroke-width="0.6" />
<line x1="158.6" y1="395.93333333333334" x2="160.6" y2="395.93333333333334" stroke="#999" stroke-width="0.6" />
<line x1="158.6" y1="399.8666666666667" x2="160.6" y2="399.8666666666667" stroke="#999" stroke-width="0.6" />
<line x1="158.6" y1="403.8" x2="160.6" y2="403.8" stroke="#999" stroke-width="0.6" />
<line x1="158.6" y1="407.73333333333335" x2="162.1" y2="407.73333333333335" stroke="#999" stroke-width="0.6" />
<line x1="158.6" y1="411.6666666666667" x2="160.6" y2="411.6666666666667" stroke="#999" stroke-width="0.6" />
<line x1="158.6" y1="415.6" x2="160.6" y2="415.6" stroke="#999" stroke-width="0.6" />
<text transform="translate(163.1,355.3) rotate(90)" font-size="10.4" text-anchor="middle" textLength="54.0" lengthAdjust="spacingAndGlyphs">Luminescence</text>
<line x1="264.3" y1="265.29999999999995" x2="264.3" y2="458.5" stroke="#000" stroke-width="1" />
<line x1="264.3" y1="410.2" x2="462.0" y2="410.2" stroke="#000" stroke-width="1" />
<line x1="258.3" y1="265.29999999999995" x2="264.3" y2="265.29999999999995" stroke="#000" stroke-width="1" />
<text transform="translate(255.4,269.9) scale(1,1.06)" font-size="13" text-anchor="end">1.5<tspan font-size="11.05">×</tspan>10<tspan font-size="7.41" dx="2.0" dy="-5.60">4</tspan></text>
<line x1="258.3" y1="313.59999999999997" x2="264.3" y2="313.59999999999997" stroke="#000" stroke-width="1" />
<text transform="translate(255.4,318.2) scale(1,1.06)" font-size="13" text-anchor="end">1.0<tspan font-size="11.05">×</tspan>10<tspan font-size="7.41" dx="2.0" dy="-5.60">4</tspan></text>
<line x1="258.3" y1="361.9" x2="264.3" y2="361.9" stroke="#000" stroke-width="1" />
<text transform="translate(255.4,366.5) scale(1,1.06)" font-size="13" text-anchor="end">5.0<tspan font-size="11.05">×</tspan>10<tspan font-size="7.41" dx="2.0" dy="-5.60">3</tspan></text>
<line x1="258.3" y1="458.5" x2="264.3" y2="458.5" stroke="#000" stroke-width="1" />
<text transform="translate(255.4,463.1) scale(1,1.06)" font-size="13" text-anchor="end">-5.0<tspan font-size="11.05">×</tspan>10<tspan font-size="7.41" dx="2.0" dy="-5.60">3</tspan></text>
<line x1="258.3" y1="410.2" x2="264.3" y2="410.2" stroke="#000" stroke-width="1" />
<text transform="translate(255.5,414.8) scale(1,1.06)" font-size="13" text-anchor="end" font-weight="normal" font-style="normal" >0</text>
<line x1="313.75" y1="410.2" x2="313.75" y2="414.4" stroke="#000" stroke-width="1" />
<text transform="translate(313.75,427.5) scale(1,1.06)" font-size="13" text-anchor="middle" font-weight="normal" font-style="normal" >20</text>
<line x1="363.0" y1="410.2" x2="363.0" y2="414.4" stroke="#000" stroke-width="1" />
<text transform="translate(363.0,427.5) scale(1,1.06)" font-size="13" text-anchor="middle" font-weight="normal" font-style="normal" >40</text>
<line x1="412.25" y1="410.2" x2="412.25" y2="414.4" stroke="#000" stroke-width="1" />
<text transform="translate(412.25,427.5) scale(1,1.06)" font-size="13" text-anchor="middle" font-weight="normal" font-style="normal" >60</text>
<line x1="461.5" y1="410.2" x2="461.5" y2="414.4" stroke="#000" stroke-width="1" />
<text transform="translate(461.5,427.5) scale(1,1.06)" font-size="13" text-anchor="middle" font-weight="normal" font-style="normal" >80</text>
<text transform="translate(302.85,471.7) scale(1,1.06)" font-size="13.1" text-anchor="start" font-weight="normal" font-style="normal" >Hours post-resection</text>
<text transform="translate(192,360.75) rotate(-90) scale(1.06,1)" font-size="12.56" text-anchor="middle"><tspan font-style="italic">In vivo</tspan> ROS production</text>
<text transform="translate(205.6,360.75) rotate(-90) scale(1.06,1)" font-size="12.36" text-anchor="middle">(resec-sham) A.U</text>
<text transform="translate(188.6,272.4) scale(1,1.0)" font-size="13" text-anchor="start" font-weight="bold" font-style="normal" >e</text>
<polyline fill="none" stroke="#000" stroke-width="0.9" points="264.3,417 271.6,435 279.4,429.6 293.7,447.8 323.3,452.2 382.7,429.1 442.2,421.5"/>
<polyline fill="none" stroke="#000" stroke-width="0.9" points="264.3,405.5 271.6,385.9 279.1,383.4 293.7,396.8 323.4,402.7 382.7,414 442.2,401.7"/>
<polyline fill="none" stroke="#000" stroke-width="0.9" points="264.3,410.3 271.6,360.7 279.1,299.2 293.8,319.4 323.6,392 382.7,418.7 442.2,413.1"/>
<circle cx="264.3" cy="417" r="3.0" fill="#fff" stroke="#000" stroke-width="0.8"/><circle cx="264.3" cy="417" r="0.6" fill="#000"/>
<circle cx="271.6" cy="435" r="3.0" fill="#fff" stroke="#000" stroke-width="0.8"/><circle cx="271.6" cy="435" r="0.6" fill="#000"/>
<circle cx="279.4" cy="429.6" r="3.0" fill="#fff" stroke="#000" stroke-width="0.8"/><circle cx="279.4" cy="429.6" r="0.6" fill="#000"/>
<circle cx="293.7" cy="447.8" r="3.0" fill="#fff" stroke="#000" stroke-width="0.8"/><circle cx="293.7" cy="447.8" r="0.6" fill="#000"/>
<circle cx="323.3" cy="452.2" r="3.0" fill="#fff" stroke="#000" stroke-width="0.8"/><circle cx="323.3" cy="452.2" r="0.6" fill="#000"/>
<circle cx="382.7" cy="429.1" r="3.0" fill="#fff" stroke="#000" stroke-width="0.8"/><circle cx="382.7" cy="429.1" r="0.6" fill="#000"/>
<circle cx="442.2" cy="421.5" r="3.0" fill="#fff" stroke="#000" stroke-width="0.8"/><circle cx="442.2" cy="421.5" r="0.6" fill="#000"/>
<circle cx="264.3" cy="405.5" r="3.1" fill="#fff" stroke="#000" stroke-width="0.9"/>
<circle cx="271.6" cy="385.9" r="3.1" fill="#fff" stroke="#000" stroke-width="0.9"/>
<circle cx="279.1" cy="383.4" r="3.1" fill="#fff" stroke="#000" stroke-width="0.9"/>
<circle cx="293.7" cy="396.8" r="3.1" fill="#fff" stroke="#000" stroke-width="0.9"/>
<circle cx="323.4" cy="402.7" r="3.1" fill="#fff" stroke="#000" stroke-width="0.9"/>
<circle cx="382.7" cy="414" r="3.1" fill="#fff" stroke="#000" stroke-width="0.9"/>
<circle cx="442.2" cy="401.7" r="3.1" fill="#fff" stroke="#000" stroke-width="0.9"/>
<circle cx="264.3" cy="410.3" r="3.4" fill="#000"/>
<circle cx="271.6" cy="360.7" r="3.4" fill="#000"/>
<circle cx="279.1" cy="299.2" r="3.4" fill="#000"/>
<circle cx="293.8" cy="319.4" r="3.4" fill="#000"/>
<circle cx="323.6" cy="392" r="3.4" fill="#000"/>
<circle cx="382.7" cy="418.7" r="3.4" fill="#000"/>
<circle cx="442.2" cy="413.1" r="3.4" fill="#000"/>
<line x1="341.9" y1="367.2" x2="355.7" y2="367.2" stroke="#000" stroke-width="0.9" />
<circle cx="348.8" cy="367.2" r="3.1" fill="#fff" stroke="#000" stroke-width="0.9"/>
<text transform="translate(364.2,370.59999999999997) scale(1,1.06)" font-size="9.5" text-anchor="start" font-weight="normal" font-style="normal" >Resec</text>
<line x1="341.9" y1="378" x2="355.7" y2="378" stroke="#000" stroke-width="0.9" />
<circle cx="348.8" cy="378" r="3.4" fill="#000"/>
<text transform="translate(364.2,381.4) scale(1,1.06)" font-size="9.5" text-anchor="start" font-weight="normal" font-style="normal" >Resec + NAL-M</text>
<line x1="341.9" y1="388.1" x2="355.7" y2="388.1" stroke="#000" stroke-width="0.9" />
<circle cx="348.8" cy="388.1" r="3.0" fill="#fff" stroke="#000" stroke-width="0.8"/><circle cx="348.8" cy="388.1" r="0.6" fill="#000"/>
<text transform="translate(364.2,391.5) scale(1,1.06)" font-size="9.5" text-anchor="start" font-weight="normal" font-style="normal" >Resec + NAL-M + APO</text>
<line x1="403.3" y1="261.1" x2="403.3" y2="342.40000000000003" stroke="#000" stroke-width="0.8" />
<line x1="403.3" y1="315.3" x2="463.7" y2="315.3" stroke="#000" stroke-width="0.8" />
<line x1="400.8" y1="261.1" x2="403.3" y2="261.1" stroke="#000" stroke-width="0.8" />
<text transform="translate(397.2,263.70000000000005) scale(1,1.06)" font-size="7.5" text-anchor="end">4.0<tspan font-size="6.38">×</tspan>10<tspan font-size="4.50" dx="0.5" dy="-3.07">5</tspan></text>
<line x1="400.8" y1="288.2" x2="403.3" y2="288.2" stroke="#000" stroke-width="0.8" />
<text transform="translate(397.2,290.8) scale(1,1.06)" font-size="7.5" text-anchor="end">2.0<tspan font-size="6.38">×</tspan>10<tspan font-size="4.50" dx="0.5" dy="-3.07">5</tspan></text>
<line x1="400.8" y1="342.40000000000003" x2="403.3" y2="342.40000000000003" stroke="#000" stroke-width="0.8" />
<text transform="translate(397.2,345.00000000000006) scale(1,1.06)" font-size="7.5" text-anchor="end">-2.0<tspan font-size="6.38">×</tspan>10<tspan font-size="4.50" dx="0.5" dy="-3.07">5</tspan></text>
<line x1="400.8" y1="315.3" x2="403.3" y2="315.3" stroke="#000" stroke-width="0.8" />
<text transform="translate(397.2,317.90000000000003) scale(1,1.06)" font-size="7.5" text-anchor="end" font-weight="normal" font-style="normal" >0</text>
<text transform="translate(395.2,311) rotate(-90) scale(1.06,1)" font-size="7.17" text-anchor="middle">A.U.C</text>
<rect x="406.4" y="309" width="13.2" height="6.300000000000011" fill="#fff" stroke="#000" stroke-width="0.8"/>
<line x1="413" y1="309" x2="413" y2="300.2" stroke="#000" stroke-width="0.8" />
<line x1="409.3" y1="300.2" x2="416.6" y2="300.2" stroke="#000" stroke-width="0.8" />
<rect x="426.4" y="276.8" width="13.9" height="38.5" fill="#000"/>
<line x1="433.5" y1="276.8" x2="433.5" y2="264.2" stroke="#000" stroke-width="0.8" />
<line x1="430.2" y1="264.2" x2="436.9" y2="264.2" stroke="#000" stroke-width="0.8" />
<rect x="446.7" y="315.3" width="13.6" height="26.099999999999966" fill="url(#hstripe)" stroke="#999" stroke-width="0.6"/>
<line x1="446.7" y1="341.6" x2="460.3" y2="341.6" stroke="#000" stroke-width="1.2" />
<line x1="409.3" y1="257.3" x2="431.9" y2="257.3" stroke="#000" stroke-width="0.8" />
<line x1="435.4" y1="257.3" x2="459.5" y2="257.3" stroke="#000" stroke-width="0.8" />
<text transform="translate(420.7,257.6) scale(1,1.06)" font-size="10.5" text-anchor="middle" font-weight="bold" font-style="normal" >*</text>
<text transform="translate(447.3,257.6) scale(1,1.06)" font-size="10.5" text-anchor="middle" font-weight="bold" font-style="normal" >***</text>
<line x1="545.6" y1="289.1" x2="545.6" y2="446.20000000000005" stroke="#000" stroke-width="1.1" />
<line x1="545.1" y1="445.6" x2="652.6" y2="445.6" stroke="#777" stroke-width="1.3" />
<line x1="541.6" y1="289.6" x2="545.6" y2="289.6" stroke="#000" stroke-width="1" />
<text transform="translate(540.5,294.3) scale(1,1.06)" font-size="13" text-anchor="end" font-weight="normal" font-style="normal" >1.0</text>
<line x1="541.6" y1="315.6" x2="545.6" y2="315.6" stroke="#000" stroke-width="1" />
<text transform="translate(540.5,320.3) scale(1,1.06)" font-size="13" text-anchor="end" font-weight="normal" font-style="normal" >0.9</text>
<line x1="541.6" y1="341.6" x2="545.6" y2="341.6" stroke="#000" stroke-width="1" />
<text transform="translate(540.5,346.3) scale(1,1.06)" font-size="13" text-anchor="end" font-weight="normal" font-style="normal" >0.8</text>
<line x1="541.6" y1="367.6" x2="545.6" y2="367.6" stroke="#000" stroke-width="1" />
<text transform="translate(540.5,372.3) scale(1,1.06)" font-size="13" text-anchor="end" font-weight="normal" font-style="normal" >0.7</text>
<line x1="541.6" y1="393.6" x2="545.6" y2="393.6" stroke="#000" stroke-width="1" />
<text transform="translate(540.5,398.3) scale(1,1.06)" font-size="13" text-anchor="end" font-weight="normal" font-style="normal" >0.6</text>
<line x1="541.6" y1="419.6" x2="545.6" y2="419.6" stroke="#000" stroke-width="1" />
<text transform="translate(540.5,424.3) scale(1,1.06)" font-size="13" text-anchor="end" font-weight="normal" font-style="normal" >0.5</text>
<line x1="541.6" y1="445.6" x2="545.6" y2="445.6" stroke="#000" stroke-width="1" />
<text transform="translate(540.5,450.3) scale(1,1.06)" font-size="13" text-anchor="end" font-weight="normal" font-style="normal" >0.4</text>
<line x1="563.4" y1="445.6" x2="563.4" y2="449.40000000000003" stroke="#777" stroke-width="1" />
<line x1="598.9" y1="445.6" x2="598.9" y2="449.40000000000003" stroke="#777" stroke-width="1" />
<line x1="634.6" y1="445.6" x2="634.6" y2="449.40000000000003" stroke="#777" stroke-width="1" />
<rect x="555.1999999999999" y="456.95" width="3.9" height="1.9" fill="#000"/>
<text transform="translate(593.3,461.5) scale(1,1.06)" font-size="13" text-anchor="middle" font-weight="normal" font-style="normal" >NAL-M</text>
<text transform="translate(620.8,462.1) scale(1,1.06)" font-size="13" text-anchor="start" font-weight="normal" font-style="normal" >NAL-M</text>
<text transform="translate(623.5,477.2) scale(1,1.06)" font-size="13" text-anchor="start" font-weight="normal" font-style="normal" >+ APO</text>
<text transform="translate(517,359.35) rotate(-90) scale(1.06,1)" font-size="12.26" text-anchor="middle">Regeneration index</text>
<text transform="translate(600.2,265.4) scale(1,1.06)" font-size="13" text-anchor="middle" font-weight="normal" font-style="normal" >C57BL/6</text>
<text transform="translate(600.2,281) scale(1,1.06)" font-size="13" text-anchor="middle" font-weight="normal" font-style="normal" >2 weeks</text>
<text transform="translate(511.4,273) scale(1,1.0)" font-size="13" text-anchor="start" font-weight="bold" font-style="normal" >f</text>
<line x1="561" y1="307.2" x2="598.5" y2="307.2" stroke="#000" stroke-width="0.9" />
<line x1="604.4" y1="307.2" x2="641.6" y2="307.2" stroke="#000" stroke-width="0.9" />
<text transform="translate(580.2,306) scale(1,1.06)" font-size="10.6" text-anchor="middle" font-weight="bold" font-style="normal" >**</text>
<text transform="translate(622.3,305.5) scale(1,1.06)" font-size="10.6" text-anchor="middle" font-weight="bold" font-style="normal" >**</text>
<line x1="551.3" y1="363.9" x2="575.1" y2="363.9" stroke="#777" stroke-width="1.3" />
<line x1="563.2" y1="359.7" x2="563.2" y2="368.2" stroke="#444" stroke-width="1.1" />
<line x1="557.5" y1="359.7" x2="569.5" y2="359.7" stroke="#444" stroke-width="1.1" />
<line x1="557.5" y1="368.2" x2="569.5" y2="368.2" stroke="#444" stroke-width="1.1" />
<circle cx="563.2" cy="341" r="2.6" fill="none" stroke="#000" stroke-width="0.9"/>
<circle cx="563.2" cy="352.9" r="2.6" fill="none" stroke="#000" stroke-width="0.9"/>
<circle cx="567.3" cy="359.1" r="2.6" fill="none" stroke="#000" stroke-width="0.9"/>
<circle cx="559" cy="362.4" r="2.6" fill="none" stroke="#000" stroke-width="0.9"/>
<circle cx="571.3" cy="367.6" r="2.6" fill="none" stroke="#000" stroke-width="0.9"/>
<circle cx="555" cy="372.6" r="2.6" fill="none" stroke="#000" stroke-width="0.9"/>
<circle cx="563.2" cy="373.6" r="2.6" fill="none" stroke="#000" stroke-width="0.9"/>
<circle cx="563.2" cy="383.7" r="2.6" fill="none" stroke="#000" stroke-width="0.9"/>
<line x1="587.1" y1="332.8" x2="610.9" y2="332.8" stroke="#888" stroke-width="1.4" />
<line x1="598.8" y1="325.5" x2="598.8" y2="340.4" stroke="#888" stroke-width="1.1" />
<line x1="591.5" y1="325.5" x2="604.8" y2="325.5" stroke="#333" stroke-width="1.1" />
<line x1="593.1" y1="340.4" x2="604.8" y2="340.4" stroke="#333" stroke-width="1.1" />
<circle cx="602.8" cy="317.9" r="2.8" fill="#000"/>
<circle cx="594.7" cy="325.7" r="2.8" fill="#000"/>
<circle cx="598.8" cy="336.7" r="2.8" fill="#000"/>
<circle cx="598.8" cy="351.9" r="2.8" fill="#000"/>
<line x1="622.5" y1="379.9" x2="646.5" y2="379.9" stroke="#888" stroke-width="1.3" />
<line x1="634.6" y1="371" x2="634.6" y2="388.2" stroke="#333" stroke-width="1.1" />
<line x1="629.2" y1="371" x2="640.1" y2="371" stroke="#333" stroke-width="1.1" />
<line x1="629.2" y1="388.2" x2="640.1" y2="388.2" stroke="#333" stroke-width="1.1" />
<circle cx="630.4" cy="343.7" r="2.6" fill="#fff" stroke="#000" stroke-width="0.8"/><circle cx="630.4" cy="343.7" r="0.6" fill="#000"/>
<circle cx="638.8" cy="351.7" r="2.6" fill="#fff" stroke="#000" stroke-width="0.8"/><circle cx="638.8" cy="351.7" r="0.6" fill="#000"/>
<circle cx="634.6" cy="367.3" r="2.6" fill="#fff" stroke="#000" stroke-width="0.8"/><circle cx="634.6" cy="367.3" r="0.6" fill="#000"/>
<circle cx="630.4" cy="380.2" r="2.6" fill="#fff" stroke="#000" stroke-width="0.8"/><circle cx="630.4" cy="380.2" r="0.6" fill="#000"/>
<circle cx="638.8" cy="385.5" r="2.6" fill="#fff" stroke="#000" stroke-width="0.8"/><circle cx="638.8" cy="385.5" r="0.6" fill="#000"/>
<circle cx="626.4" cy="398.6" r="2.6" fill="#fff" stroke="#000" stroke-width="0.8"/><circle cx="626.4" cy="398.6" r="0.6" fill="#000"/>
<circle cx="634.6" cy="406.6" r="2.6" fill="#fff" stroke="#000" stroke-width="0.8"/><circle cx="634.6" cy="406.6" r="0.6" fill="#000"/>
<circle cx="642.6" cy="403.6" r="2.6" fill="#fff" stroke="#000" stroke-width="0.8"/><circle cx="642.6" cy="403.6" r="0.6" fill="#000"/>
</svg></body></html>
